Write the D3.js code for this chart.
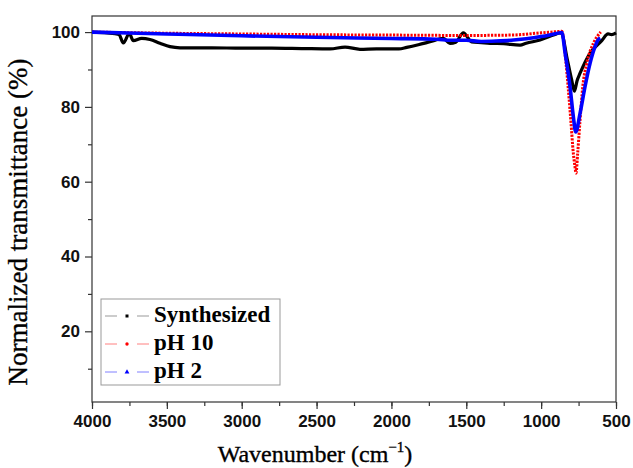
<!DOCTYPE html>
<html>
<head>
<meta charset="utf-8">
<script src="https://cdn.jsdelivr.net/npm/d3@7"></script>
<style>
  body { margin: 0; background: #fff; }
  .tick text { font-family: "Liberation Sans", Arial, sans-serif; font-weight: bold; font-size: 17px; fill: #111; }
</style>
</head>
<body>
<svg width="633" height="468"></svg>
<script>
// wavenumber (cm-1) and transmittance (%) for each sample
var wnSyn = [4000, 3900, 3820, 3791, 3751, 3724, 3668, 3613, 3546, 3479, 3412, 3200, 3000, 2800, 2600, 2410, 2310, 2210, 2100, 1950, 1898, 1820, 1742, 1653, 1609, 1570, 1520, 1464, 1400, 1341, 1250, 1141, 1100, 1007, 918, 874, 862, 829, 796, 778, 760, 740, 673, 595, 553, 530, 500];
var tSyn  = [100, 99.8, 99.4, 97.1, 99.6, 97.7, 98.3, 98.0, 97.0, 96.1, 95.8, 95.8, 95.7, 95.7, 95.6, 95.5, 96.0, 95.4, 95.5, 95.5, 95.9, 96.6, 97.4, 98.3, 97.0, 97.3, 99.8, 97.4, 97.2, 97.0, 96.9, 96.5, 97.0, 97.9, 99.2, 99.8, 99.6, 93.4, 87.2, 84.2, 87.0, 89.0, 94.4, 97.7, 99.5, 99.3, 99.8];

var wnPH10 = [4000, 3500, 3000, 2500, 2000, 1500, 1200, 1000, 900, 862, 834, 818, 802, 785, 775, 767, 756, 740, 722, 695, 651, 602];
var tPH10  = [100, 99.7, 99.5, 99.3, 99.2, 99.1, 99.2, 99.8, 100.1, 100.2, 91.7, 84.5, 76.5, 67.6, 64.3, 62.3, 67.6, 76.5, 85.4, 91.7, 97.0, 100];

var wnPH2 = [4000, 3500, 3000, 2500, 2000, 1700, 1600, 1500, 1400, 1300, 1200, 1100, 1000, 900, 862, 840, 807, 785, 769, 740, 707, 673, 640, 620, 605];
var tPH2  = [100, 99.5, 99.0, 98.6, 98.3, 98.1, 97.8, 97.8, 97.5, 97.6, 97.8, 98.2, 98.8, 99.6, 99.9, 94.4, 85.4, 77.4, 73.3, 78.3, 85.4, 91.7, 96.1, 97.9, 98.4];

var xTicks = [4000, 3500, 3000, 2500, 2000, 1500, 1000, 500];
var yTicks = [20, 40, 60, 80, 100];
var legendNames = ["Synthesized", "pH 10", "pH 2"];

function main() {
    var svg = d3.select("svg");
    var left = 92, right = 616, top = 16, bottom = 402;

    var x = d3.scaleLinear().domain([4000, 500]).range([left, right]);
    var y = d3.scaleLinear().domain([1.1, 104.3]).range([bottom, top]);

    // frame
    svg.append("rect")
        .attr("x", left).attr("y", top)
        .attr("width", right - left).attr("height", bottom - top)
        .attr("fill", "none").attr("stroke", "#333").attr("stroke-width", 1.2);

    // minor ticks
    svg.append("g")
        .attr("transform", "translate(0," + bottom + ")")
        .call(d3.axisBottom(x).tickValues(d3.range(4000, 499, -250)).tickSize(4).tickFormat(""))
        .call(function(g) { g.select(".domain").remove(); });
    svg.append("g")
        .attr("transform", "translate(" + left + ",0)")
        .call(d3.axisLeft(y).tickValues([10, 30, 50, 70, 90]).tickSize(4).tickFormat(""))
        .call(function(g) { g.select(".domain").remove(); });

    // major ticks
    var xAxis = svg.append("g")
        .attr("transform", "translate(0," + bottom + ")")
        .call(d3.axisBottom(x).tickValues(xTicks).tickSize(7).tickPadding(6).tickFormat(d3.format("d")));
    xAxis.select(".domain").remove();

    var yAxis = svg.append("g")
        .attr("transform", "translate(" + left + ",0)")
        .call(d3.axisLeft(y).tickValues(yTicks).tickSize(7).tickPadding(5).tickFormat(d3.format("d")));
    yAxis.select(".domain").remove();
    svg.selectAll(".tick line").attr("stroke", "#333").attr("stroke-width", 1.2);

    // axis titles
    var xt = svg.append("text")
        .attr("x", 315).attr("y", 462)
        .attr("text-anchor", "middle")
        .style("font-family", "'Liberation Serif', serif")
        .style("font-size", "24px")
        .attr("stroke", "#000").attr("stroke-width", 0.35)
        .text("Wavenumber (cm");
    xt.append("tspan").attr("dy", -10).style("font-size", "15px").text("\u22121");
    xt.append("tspan").attr("dy", 10).text(")");

    svg.append("text")
        .attr("transform", "translate(27,222) rotate(-90)")
        .attr("text-anchor", "middle")
        .style("font-family", "'Liberation Serif', serif")
        .style("font-size", "27px")
        .attr("stroke", "#000").attr("stroke-width", 0.35)
        .text("Normalized transmittance (%)");

    var line = d3.line()
        .x(function(d) { return x(d[0]); })
        .y(function(d) { return y(d[1]); })
        .curve(d3.curveMonotoneX);

    var series = [
        { wn: wnSyn, t: tSyn, color: "#000", width: 3.2, dash: null },
        { wn: wnPH10, t: tPH10, color: "#ff0000", width: 3, dash: "2.2,1.3" },
        { wn: wnPH2, t: tPH2, color: "#0000ff", width: 3.6, dash: null }
    ];

    series.forEach(function(s) {
        var pts = s.wn.map(function(w, i) { return [w, s.t[i]]; });
        svg.append("path")
            .datum(pts)
            .attr("d", line)
            .attr("fill", "none")
            .attr("stroke", s.color)
            .attr("stroke-width", s.width)
            .attr("stroke-dasharray", s.dash)
            .attr("stroke-linejoin", "round");
    });

    // legend
    var lg = svg.append("g");
    lg.append("rect")
        .attr("x", 101).attr("y", 299)
        .attr("width", 179).attr("height", 86)
        .attr("fill", "#fff").attr("stroke", "#999").attr("stroke-width", 1);

    var legendLine = ["#999", "#ff8080", "#8080ff"];
    var legendMark = ["#000", "#ff0000", "#0000ff"];
    legendNames.forEach(function(name, i) {
        var yy = 316 + i * 28;
        lg.append("line")
            .attr("x1", 105).attr("x2", 149)
            .attr("y1", yy).attr("y2", yy)
            .attr("stroke", legendLine[i]).attr("stroke-width", 1)
            .attr("stroke-dasharray", "12,20");
        if (i == 0) {
            lg.append("rect").attr("x", 125.5).attr("y", yy - 1.5).attr("width", 3).attr("height", 3).attr("fill", legendMark[i]);
        } else if (i == 1) {
            lg.append("circle").attr("cx", 127).attr("cy", yy).attr("r", 1.7).attr("fill", legendMark[i]);
        } else {
            lg.append("path").attr("d", d3.symbol().type(d3.symbolTriangle).size(10)).attr("transform", "translate(127," + yy + ")").attr("fill", legendMark[i]);
        }
        lg.append("text")
            .attr("x", 154).attr("y", yy + 6)
            .style("font-family", "'Liberation Serif', serif")
            .style("font-weight", "bold")
            .style("font-size", "23px")
            .text(name);
    });
}
main();
</script>
</body>
</html>
